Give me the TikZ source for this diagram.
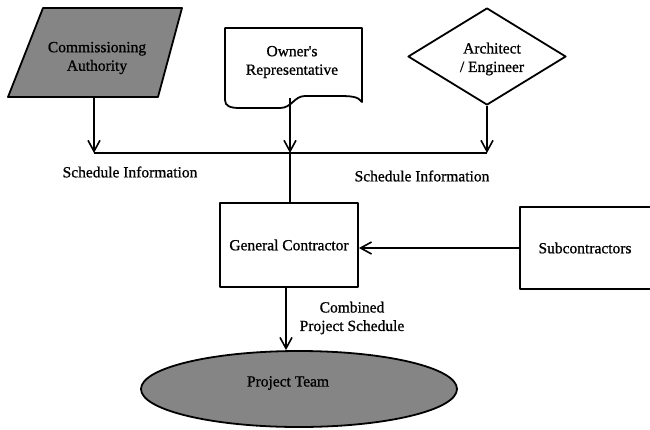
\documentclass[tikz,border=0pt]{standalone}
\usepackage{fontspec}
\setmainfont{Liberation Serif}
\newfontface\inkface{Liberation Serif}[FakeBold=0.9]
\usetikzlibrary{arrows.meta,shapes.geometric}

\tikzset{
  flow/.style={line width=1.8pt},
  flowarrow/.style={flow,-{Straight Barb[length=11pt,width=12pt,line width=1.6pt]}},
  lbl/.style={font=\fontsize{15.5}{18.5}\inkface,align=center,inner sep=0pt},
  boxnode/.style={draw,line width=1.8pt,inner sep=0pt,lbl},
  shaded/.style={fill=black!48}
}

\begin{document}
\begin{tikzpicture}[x=1pt,y=-1pt,line join=round]
  \useasboundingbox (0,0) rectangle (650,429);
  \clip (0,0) rectangle (650,429);

  % Commissioning Authority: shaded parallelogram
  \path[shaded,draw,line width=1.8pt]
    (43,8) -- (182,8) -- (158,97) -- (8,97) -- cycle;
  \node[lbl] (ca) at (97,58) {Commissioning\\Authority};
  \coordinate (caout) at (94,97);

  % Owner's Representative: document shape with wavy lower edge
  \draw[line width=1.8pt]
    (225,28) -- (362,28) -- (362,102)
    .. controls (358,96) and (350,96) .. (336,96)
    -- (305,96)
    .. controls (294,96) and (292,108) .. (280,108)
    -- (240,108)
    .. controls (230,108) and (225,106) .. (225,100)
    -- cycle;
  \node[lbl] (owner) at (292,62) {Owner's\\Representative};
  \coordinate (ownerout) at (290,98);

  % Architect / Engineer: diamond
  \node[boxnode,diamond,aspect=1.6,minimum width=158pt,minimum height=97pt]
    (arch) at (487,56.5) {};
  \node[lbl] (archtext) at (492,59) {Architect\\/ Engineer};

  % collecting line and its drop points
  \coordinate (busL) at (94,153);
  \coordinate (busM) at (290,153);
  \coordinate (busR) at (487,153);

  \draw[flowarrow] (caout) -- (busL);
  \draw[flowarrow] (ownerout) -- (busM);
  \draw[flowarrow] (arch.south) -- (busR);
  \draw[flow] (busL) -- (busR);

  \node[lbl] (schedL) at (130,172) {Schedule Information};
  \node[lbl] (schedR) at (422,176) {Schedule Information};

  % contractors
  \node[boxnode,minimum width=138pt,minimum height=84pt] (gc) at (289,245)
    {General Contractor};
  \node[boxnode,minimum width=140pt,minimum height=82pt] (sub) at (590,248)
    {\hspace*{-10pt}Subcontractors};

  \draw[flow] (busM) -- (busM |- gc.north);
  \draw[flowarrow] (sub.west) -- (sub.west -| gc.east);

  % project team
  \node[draw,shaded,ellipse,line width=1.8pt,minimum width=316pt,minimum height=76pt,inner sep=0pt]
    (team) at (299,389) {};
  \node[lbl] (teamtext) at (288,383) {Project Team};

  \draw[flowarrow] ([xshift=-3pt]gc.south) -- ([xshift=-3pt]gc.south |- team.north);
  \node[lbl] (combined) at (352,318) {Combined\\Project Schedule};
\end{tikzpicture}
\end{document}
